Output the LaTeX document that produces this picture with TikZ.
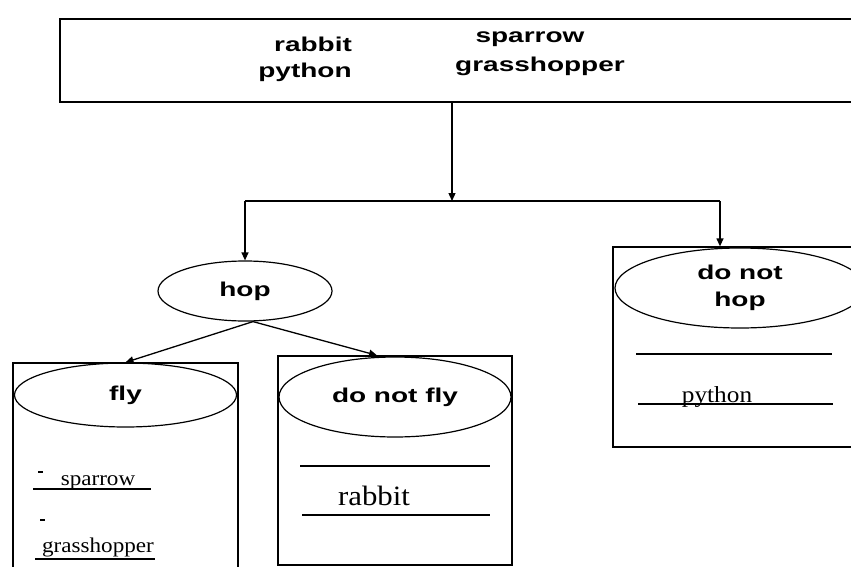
\documentclass[tikz,border=0pt]{standalone}
\usepackage{fontspec}
\usepackage{graphicx}
\setmainfont{Liberation Serif}
\setsansfont{Liberation Sans}
\usetikzlibrary{arrows.meta,shapes.geometric,positioning}

\newcommand\headfont{\sffamily\bfseries\fontsize{20}{27}\selectfont}
\newcommand\wide[1]{\scalebox{1.4}[1]{#1}}
\newcommand\itemtext[2]{\fontsize{#1}{#1}\selectfont\scalebox{1.1}[1]{#2}}

\tikzset{
  box/.style={draw, line width=1.3pt, inner sep=0pt},
  pot/.style={ellipse, draw, line width=1.2pt, inner sep=0pt, font=\headfont, align=center},
  head/.style={font=\headfont, inner sep=0pt, anchor=base},
  item/.style={inner sep=0pt, anchor=base},
  rule/.style={line width=1.2pt},
  link/.style={line width=1.3pt, -{Triangle[length=8pt,width=7pt]}},
}

\begin{document}
\begin{tikzpicture}[x=1pt,y=-1pt]
    \useasboundingbox (0,0) rectangle (851,567);
    \clip (0,0) rectangle (851,567);

    % Top box
    \node[box, minimum width=810pt, minimum height=83pt] (animals) at (465,60.5) {};
    \node[head] (rabbit) at (313,52) {\wide{rabbit}};
    \node[head] (python) at (305,78) {\wide{python}};
    \node[head] (sparrow) at (530,43) {\wide{sparrow}};
    \node[head] (grasshopper) at (540,72) {\wide{grasshopper}};

    % First split
    \node[pot, minimum width=174pt, minimum height=60pt] (hop) at (245,291) {\wide{hop}};
    \node[box, minimum width=254pt, minimum height=200pt] (dnhbox) at (740,347) {};
    \node[pot, minimum width=250pt, minimum height=80pt] (dnh) at (740,288) {\wide{do not}\\\wide{hop}};

    % Second split
    \node[box, minimum width=225pt, minimum height=237pt] (flybox) at (125.5,481.5) {};
    \node[pot, minimum width=222pt, minimum height=64pt] (fly) at (125.5,395) {\wide{fly}};
    \node[box, minimum width=234pt, minimum height=209pt] (dnfbox) at (395,460.5) {};
    \node[pot, minimum width=232pt, minimum height=80pt] (dnf) at (395,397) {\wide{do not fly}};

    % Items
    \node[item] (itsparrow) at (98,485) {\itemtext{21}{sparrow}};
    \node[item] (itgrass) at (98,552) {\itemtext{21}{grasshopper}};
    \node[item] (itrabbit) at (374,505) {\itemtext{28}{rabbit}};
    \node[item] (itpython) at (717,402) {\itemtext{23}{python}};

    % Rules
    \draw[rule] (38,472) -- (43,472);
    \draw[rule] (33,489) -- (151,489);
    \draw[rule] (40,520) -- (45,520);
    \draw[rule] (35,559) -- (155,559);
    \draw[rule] (300,466) -- (490,466);
    \draw[rule] (302,515) -- (490,515);
    \draw[rule] (636,354) -- (832,354);
    \draw[rule] (638,404) -- (833,404);

    % Connectors
    \coordinate (split) at (452,201);
    \coordinate (dnhin) at ([xshift=-20pt]dnhbox.north);
    \draw[link] (split |- animals.south) -- (split);
    \draw[rule] (hop.north |- split) -- (dnhin |- split);
    \draw[link] (hop.north |- split) -- (hop.north);
    \draw[link] (dnhin |- split) -- (dnhin);
    \draw[link] ([xshift=8pt]hop.south) -- (flybox.north);
    \draw[link] ([xshift=8pt]hop.south) -- ([xshift=-18pt]dnfbox.north);

\end{tikzpicture}
\end{document}
